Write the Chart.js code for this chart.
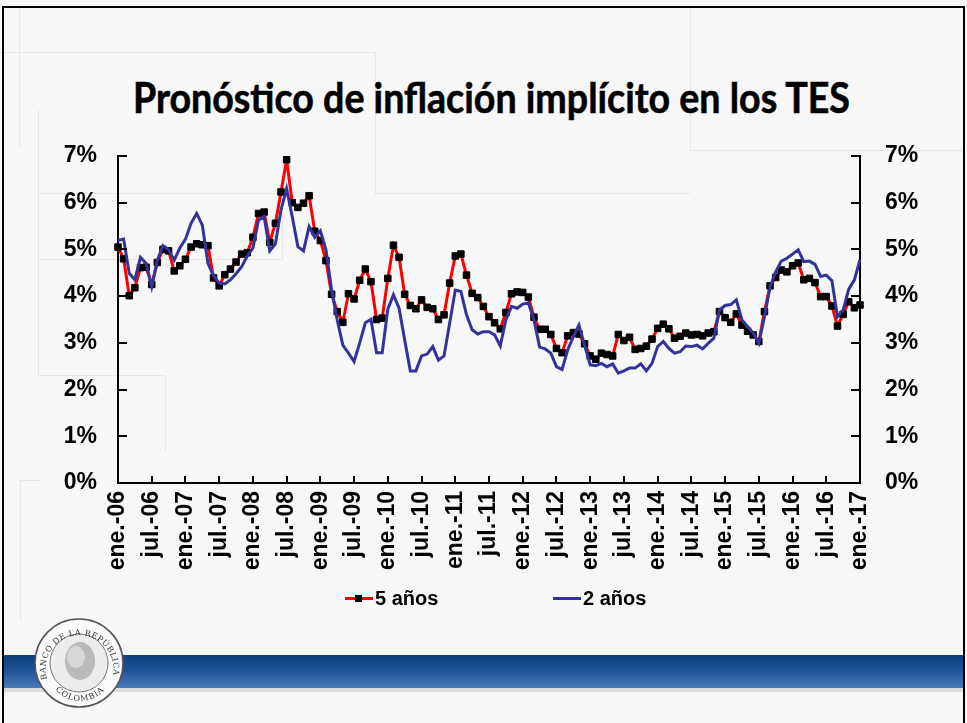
<!DOCTYPE html>
<html lang="es">
<head>
<meta charset="utf-8">
<title>Pronóstico de inflación implícito en los TES</title>
<script src="https://cdn.jsdelivr.net/npm/chart.js@4.4.1/dist/chart.umd.min.js"></script>
<style>
  html, body { margin: 0; padding: 0; }
  body {
    width: 967px; height: 723px; position: relative; overflow: hidden;
    background: #f7f7f7; font-family: "Liberation Sans", Arial, sans-serif;
  }
  .deco { position: absolute; border: 0 solid #e6e6e6; }
  #frame { position: absolute; left: 2px; top: 6px; right: 2px; bottom: 0; border: 2px solid #000; border-bottom: 0; }
  #title {
    position: absolute; top: 76px; left: 0; width: 967px; text-align: center;
    font: bold 42px Lato, sans-serif; line-height: 1; white-space: nowrap; color: #000;
    -webkit-text-stroke: 0.6px #000;
  }
  #title span { display: inline-block; transform-origin: center; }
  #chart { position: absolute; left: 0; top: 0; }
  .leg { position: absolute; top: 587px; font: bold 20px "Liberation Sans", Arial, sans-serif; line-height: 22px; color: #000; }
  .leg i { position: absolute; top: 10px; height: 3px; }
  .leg b { position: absolute; top: 8px; width: 7px; height: 7px; background: #000; }
  #band {
    position: absolute; left: 4px; right: 4px; top: 655px; height: 33px;
    background: linear-gradient(to bottom, #0f3d78 0%, #1d5196 45%, #4a7bbb 100%);
  }
  #bandline { position: absolute; left: 4px; right: 4px; top: 688px; height: 4px; background: #dcdcdc; }
  #logo { position: absolute; left: 33px; top: 617px; }
</style>
</head>
<body>
<div class="deco" style="left:19px; top:8px; height:140px; border-left-width:1px;"></div>
<div class="deco" style="left:0; top:52px; width:375px; height:141px; border-top-width:1px; border-right-width:1px;"></div>
<div class="deco" style="left:375px; top:193px; width:315px; border-top-width:1px;"></div>
<div class="deco" style="left:690px; top:8px; height:142px; border-left-width:1px;"></div>
<div class="deco" style="left:690px; top:150px; width:275px; border-top-width:1px;"></div>
<div class="deco" style="left:38px; top:193px; width:244px; height:65px; border-right-width:1px; border-bottom-width:1px; border-top-width:1px;"></div>
<div class="deco" style="left:38px; top:110px; height:265px; border-left-width:1px;"></div>
<div class="deco" style="left:38px; top:375px; width:127px; height:75px; border-top-width:1px; border-right-width:1px;"></div>
<div class="deco" style="left:20px; top:480px; width:20px; height:140px; border-top-width:1px; border-left-width:1px;"></div>

<div id="frame"></div>
<div id="title"><span id="titleText">Pronóstico de inflación implícito en los TES</span></div>

<canvas id="chart" width="967" height="723"></canvas>

<div class="leg" style="left:345px; width:100px;"><i style="left:0; width:28px; background:#ff0000;"></i><b style="left:10px;"></b><span style="position:absolute; left:30px;">5 años</span></div>
<div class="leg" style="left:553px; width:110px;"><i style="left:0; width:28px; background:#333399;"></i><span style="position:absolute; left:30px;">2 años</span></div>

<div id="band"></div>
<div id="bandline"></div>
<svg id="logo" width="92" height="92" viewBox="0 0 92 92">
  <defs>
    <path id="arcTop" d="M 14,62 A 34,34 0 1 1 80,58"/>
    <path id="arcBot" d="M 22,72 A 32,32 0 0 0 72,72"/>
  </defs>
  <circle cx="46" cy="46" r="44" fill="#fbfbfb" stroke="#555" stroke-width="1.5"/>
  <circle cx="46" cy="46" r="29" fill="#ececec" stroke="#777" stroke-width="1"/>
  <ellipse cx="47" cy="44" rx="15" ry="19" fill="#b9b9b9"/>
  <ellipse cx="43" cy="40" rx="9" ry="11" fill="#d7d7d7"/>
  <text font-size="8" font-family="DejaVu Serif" fill="#333" letter-spacing="0.5">
    <textPath href="#arcTop" startOffset="50%" text-anchor="middle">BANCO DE LA REPÚBLICA</textPath>
  </text>
  <text font-size="8" font-family="DejaVu Serif" fill="#333" letter-spacing="1">
    <textPath href="#arcBot" startOffset="50%" text-anchor="middle">COLOMBIA</textPath>
  </text>
</svg>

<script>
// ==========================================
// DATOS
// ==========================================
const meses = ["ene.", "feb.", "mar.", "abr.", "may.", "jun.", "jul.", "ago.", "sep.", "oct.", "nov.", "dic."];

// etiquetas mensuales ene.-06 ... ene.-17
const categorias = [];
for (let a = 6; a <= 17; a++) {
  for (let m = 0; m < 12; m++) {
    if (a === 17 && m > 0) break;
    categorias.push(meses[m] + "-" + String(a).padStart(2, "0"));
  }
}

const cincoAnios = [
  5.05, 4.80, 4.01, 4.18, 4.61, 4.62, 4.25, 4.72, 5.00, 4.97, 4.54, 4.65,
  4.79, 5.05, 5.12, 5.10, 5.08, 4.39, 4.22, 4.46, 4.58, 4.73, 4.90, 4.93,
  5.26, 5.77, 5.80, 5.15, 5.56, 6.23, 6.92, 6.00, 5.90, 5.99, 6.15, 5.39,
  5.19, 4.76, 4.04, 3.67, 3.44, 4.05, 3.94, 4.34, 4.58, 4.31, 3.50, 3.53,
  4.38, 5.09, 4.83, 4.04, 3.80, 3.73, 3.92, 3.76, 3.73, 3.50, 3.60, 4.28,
  4.86, 4.90, 4.45, 4.06, 3.97, 3.78, 3.56, 3.43, 3.30, 3.65, 4.05, 4.09,
  4.08, 3.98, 3.55, 3.29, 3.29, 3.18, 2.88, 2.79, 3.15, 3.22, 3.19, 2.98,
  2.72, 2.65, 2.78, 2.75, 2.72, 3.18, 3.05, 3.12, 2.86, 2.88, 2.93, 3.08,
  3.31, 3.40, 3.30, 3.10, 3.14, 3.21, 3.17, 3.18, 3.15, 3.21, 3.24, 3.67,
  3.54, 3.44, 3.62, 3.38, 3.25, 3.17, 3.03, 3.67, 4.22, 4.40, 4.56, 4.52,
  4.65, 4.71, 4.35, 4.38, 4.29, 3.99, 3.99, 3.79, 3.36, 3.61, 3.88, 3.75,
  3.81
];

const dosAnios = [
  5.19, 5.22, 4.49, 4.35, 4.83, 4.70, 4.20, 4.77, 5.08, 4.99, 4.77, 5.03,
  5.22, 5.56, 5.77, 5.52, 4.70, 4.43, 4.28, 4.26, 4.35, 4.48, 4.63, 4.86,
  5.03, 5.63, 5.70, 4.97, 5.12, 5.85, 6.30, 5.70, 5.06, 4.97, 5.49, 5.26,
  5.40, 4.99, 4.13, 3.49, 2.95, 2.78, 2.60, 3.00, 3.43, 3.50, 2.79, 2.79,
  3.72, 4.03, 3.74, 3.06, 2.40, 2.40, 2.72, 2.76, 2.92, 2.63, 2.72, 3.42,
  4.13, 4.10, 3.60, 3.28, 3.19, 3.24, 3.24, 3.17, 2.93, 3.49, 3.78, 3.74,
  3.83, 3.86, 3.49, 2.91, 2.87, 2.78, 2.49, 2.43, 2.85, 3.13, 3.38, 2.95,
  2.53, 2.51, 2.56, 2.49, 2.55, 2.35, 2.40, 2.46, 2.46, 2.55, 2.40, 2.56,
  2.92, 3.03, 2.88, 2.78, 2.81, 2.93, 2.92, 2.95, 2.87, 2.99, 3.10, 3.70,
  3.80, 3.82, 3.92, 3.49, 3.35, 3.21, 2.99, 3.56, 4.20, 4.52, 4.75, 4.81,
  4.90, 4.99, 4.74, 4.75, 4.68, 4.42, 4.45, 4.33, 3.56, 3.70, 4.15, 4.35,
  4.78
];

const ticksY = [0, 1, 2, 3, 4, 5, 6, 7];
const pasoEtiquetas = 6; // una etiqueta cada 6 meses

// ==========================================
// TITULO: ajustar ancho
// ==========================================
const tituloSpan = document.getElementById("titleText");
const anchoTitulo = tituloSpan.getBoundingClientRect().width;
tituloSpan.style.transform = "translateX(8px) scaleX(" + (717 / anchoTitulo) + ")";

// ==========================================
// MARCAS DE EJE HACIA ADENTRO
// ==========================================
const marcasInternas = {
  id: "marcasInternas",
  afterDatasetsDraw(chart) {
    const ctx = chart.ctx;
    const area = chart.chartArea;
    const x = chart.scales.x;
    const y = chart.scales.y;
    ctx.save();
    ctx.strokeStyle = "#000";
    ctx.lineWidth = 2;
    ctx.beginPath();
    categorias.forEach((c, i) => {
      if (i % pasoEtiquetas !== 0) return;
      const px = Math.round(x.getPixelForValue(i));
      ctx.moveTo(px, area.bottom);
      ctx.lineTo(px, area.bottom - 7);
    });
    ticksY.forEach((v) => {
      const py = Math.round(y.getPixelForValue(v));
      ctx.moveTo(area.left, py);
      ctx.lineTo(area.left + 9, py);
      ctx.moveTo(area.right, py);
      ctx.lineTo(area.right - 9, py);
    });
    ctx.stroke();
    ctx.restore();
  },
};

// ==========================================
// GRAFICO
// ==========================================
const fuenteEje = { family: "'Liberation Sans', Arial, sans-serif", size: 23, weight: "bold" };
const borde = { display: true, color: "#000", width: 2 };

new Chart(document.getElementById("chart"), {
  type: "line",
  data: {
    labels: categorias,
    datasets: [
      {
        label: "5 años",
        data: cincoAnios,
        borderColor: "#ff0000",
        borderWidth: 3,
        pointStyle: "rect",
        pointRadius: 4.6,
        pointBackgroundColor: "#000",
        pointBorderColor: "#000",
        pointBorderWidth: 1,
        tension: 0,
        order: 1,
      },
      {
        label: "2 años",
        data: dosAnios,
        borderColor: "#333399",
        borderWidth: 3,
        pointRadius: 0,
        tension: 0,
        order: 0,
      },
    ],
  },
  options: {
    responsive: false,
    animation: false,
    devicePixelRatio: 1,
    layout: { padding: { top: 156, left: 0, right: 0, bottom: 0 } },
    plugins: { legend: { display: false }, tooltip: { enabled: false } },
    scales: {
      x: {
        grid: { display: false, drawTicks: false },
        border: borde,
        ticks: {
          autoSkip: false,
          maxRotation: 90,
          minRotation: 90,
          padding: 8,
          color: "#000",
          font: { ...fuenteEje, size: 23 },
          callback: (v, i) => (i % pasoEtiquetas === 0 ? categorias[i] : null),
        },
        afterFit: (s) => { s.height = 723 - 483; },
      },
      y: {
        position: "left",
        min: 0,
        max: 7,
        grid: { display: false, drawTicks: false },
        border: borde,
        ticks: { stepSize: 1, padding: 21, color: "#000", font: fuenteEje, callback: (v) => v + "%" },
        afterFit: (s) => { s.width = 118; },
      },
      y1: {
        position: "right",
        display: true,
        min: 0,
        max: 7,
        grid: { display: false, drawTicks: false },
        border: borde,
        ticks: { stepSize: 1, padding: 25, color: "#000", font: fuenteEje, callback: (v) => v + "%" },
        afterFit: (s) => { s.width = 967 - 860; },
      },
    },
  },
  plugins: [marcasInternas],
});
</script>
</body>
</html>
